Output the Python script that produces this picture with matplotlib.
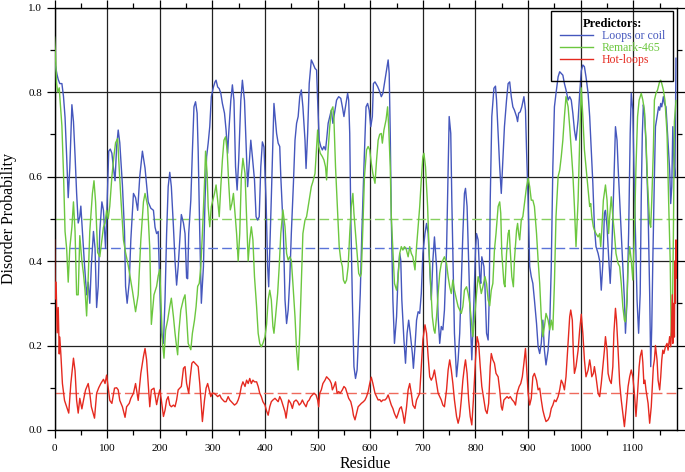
import numpy as np
import matplotlib
matplotlib.use("Agg")
import matplotlib.pyplot as plt
from matplotlib.patches import Rectangle
from matplotlib.ticker import MultipleLocator, FormatStrFormatter

plt.rcParams["font.family"] = ["Liberation Serif", "DejaVu Serif"]

# --- data (residue, disorder probability)
loops_or_coil = [
    (0, 0.87), (2, 0.86), (5, 0.84), (7, 0.83), (10, 0.82), (14, 0.82), (17, 0.79), (20, 0.74),
    (23, 0.65), (26, 0.55), (29, 0.62), (33, 0.77), (36, 0.73), (39, 0.65), (42, 0.56), (45, 0.49),
    (48, 0.505), (50, 0.53), (53, 0.47), (57, 0.39), (61, 0.32), (64, 0.35), (67, 0.30), (70, 0.39),
    (74, 0.47), (77, 0.43), (80, 0.29), (83, 0.34), (86, 0.47), (90, 0.54), (93, 0.52), (97, 0.43),
    (100, 0.54), (103, 0.66), (106, 0.665), (109, 0.655), (112, 0.62), (115, 0.59), (118, 0.67),
    (121, 0.71), (124, 0.68), (129, 0.58), (133, 0.47), (135, 0.34), (138, 0.30), (142, 0.35),
    (145, 0.45), (150, 0.56), (154, 0.55), (158, 0.52), (162, 0.60), (167, 0.66), (172, 0.62),
    (178, 0.54), (183, 0.525), (188, 0.52), (191, 0.48), (194, 0.465), (197, 0.47),
    (200, 0.34), (203, 0.23), (207, 0.205), (210, 0.31), (213, 0.465), (216, 0.576), (219, 0.61),
    (222, 0.576), (226, 0.48), (229, 0.40), (232, 0.343), (235, 0.387), (238, 0.45), (241, 0.51),
    (245, 0.49), (248, 0.465), (251, 0.36), (253, 0.358), (255, 0.465), (259, 0.544), (262, 0.66),
    (265, 0.765), (268, 0.777), (271, 0.75), (273, 0.66), (276, 0.465), (279, 0.30), (283, 0.387),
    (286, 0.544), (289, 0.647), (292, 0.679), (295, 0.718), (298, 0.789), (302, 0.812), (305, 0.824),
    (307, 0.828), (310, 0.812), (313, 0.808), (316, 0.797), (319, 0.773), (323, 0.75), (326, 0.71),
    (329, 0.655), (331, 0.702), (335, 0.78), (338, 0.817), (341, 0.78), (344, 0.623), (347, 0.568),
    (350, 0.639), (354, 0.78), (357, 0.828), (361, 0.78), (364, 0.679), (367, 0.576), (370, 0.631),
    (373, 0.686), (376, 0.647), (380, 0.592), (383, 0.505), (386, 0.497), (389, 0.505), (392, 0.623),
    (395, 0.682), (398, 0.67), (402, 0.544), (405, 0.387),
    (407, 0.339), (412, 0.55), (417, 0.773), (422, 0.702), (425, 0.679), (428, 0.671), (430, 0.60),
    (435, 0.465), (438, 0.308), (441, 0.252), (444, 0.284), (447, 0.355), (450, 0.465), (454, 0.584),
    (457, 0.686), (460, 0.726), (463, 0.742), (466, 0.789), (469, 0.805), (472, 0.765), (476, 0.686),
    (478, 0.619), (481, 0.702), (484, 0.82), (488, 0.876), (491, 0.868), (495, 0.856), (498, 0.852),
    (500, 0.781), (503, 0.686), (506, 0.671), (509, 0.663), (512, 0.671), (515, 0.663), (517, 0.686),
    (520, 0.726), (523, 0.742), (526, 0.757), (529, 0.726), (533, 0.757), (536, 0.781), (540, 0.789),
    (544, 0.785), (547, 0.765), (550, 0.742), (553, 0.765), (557, 0.797), (559, 0.781), (561, 0.702),
    (563, 0.505), (566, 0.308), (569, 0.15), (572, 0.122), (575, 0.142), (578, 0.229), (581, 0.323),
    (584, 0.465), (588, 0.623), (592, 0.765), (595, 0.773), (598, 0.757), (601, 0.718), (604, 0.742),
    (606, 0.82), (609, 0.824), (614, 0.813), (618, 0.801),
    (621, 0.789), (624, 0.797), (628, 0.828), (631, 0.852), (634, 0.876), (636, 0.844), (638, 0.702),
    (640, 0.505), (643, 0.308), (646, 0.205), (650, 0.268), (653, 0.371), (656, 0.418), (658, 0.402),
    (660, 0.308), (664, 0.213), (667, 0.158), (670, 0.229), (673, 0.26), (676, 0.229), (680, 0.181),
    (682, 0.146), (685, 0.197), (688, 0.26), (691, 0.28), (694, 0.276), (697, 0.323), (700, 0.418),
    (704, 0.465), (707, 0.489), (710, 0.465), (713, 0.387), (716, 0.308), (719, 0.402), (722, 0.457),
    (726, 0.387), (729, 0.268), (732, 0.205), (735, 0.245), (738, 0.237), (741, 0.284), (745, 0.426),
    (748, 0.623), (750, 0.742), (753, 0.702), (755, 0.544), (758, 0.347), (760, 0.229), (764, 0.126),
    (767, 0.166), (770, 0.229), (773, 0.347), (776, 0.465), (779, 0.56), (781, 0.572), (784, 0.529),
    (787, 0.402), (790, 0.268), (793, 0.166), (796, 0.268), (800, 0.426), (802, 0.465), (805, 0.45),
    (808, 0.363), (810, 0.347), (812, 0.41), (816, 0.387), (818, 0.339), (821, 0.229), (824, 0.213),
    (826, 0.308),
    (828, 0.544), (831, 0.742), (835, 0.809), (838, 0.814), (840, 0.781), (843, 0.702), (846, 0.623),
    (849, 0.56), (852, 0.639), (855, 0.718), (859, 0.781), (862, 0.82), (865, 0.824), (868, 0.789),
    (871, 0.765), (874, 0.757), (878, 0.742), (880, 0.73), (882, 0.75), (885, 0.753), (888, 0.765),
    (892, 0.789), (895, 0.757), (897, 0.663), (900, 0.544), (903, 0.387), (906, 0.363), (909, 0.347),
    (912, 0.308), (916, 0.252), (919, 0.197), (922, 0.181), (925, 0.205), (928, 0.26), (931, 0.189),
    (934, 0.154), (938, 0.189), (941, 0.245), (944, 0.387), (947, 0.623), (950, 0.765), (953, 0.797),
    (957, 0.836), (960, 0.848), (963, 0.844), (966, 0.84), (969, 0.82), (972, 0.805), (976, 0.781),
    (979, 0.789), (982, 0.781), (985, 0.75), (988, 0.71), (991, 0.686), (995, 0.734), (998, 0.797),
    (1001, 0.85), (1004, 0.864), (1007, 0.86), (1010, 0.836), (1014, 0.797), (1017, 0.742),
    (1020, 0.663), (1023, 0.584), (1026, 0.481), (1029, 0.434), (1033, 0.418), (1036, 0.40),
    (1039, 0.331), (1042, 0.394), (1045, 0.513), (1047, 0.52), (1050, 0.481), (1053, 0.41),
    (1056, 0.347), (1059, 0.426), (1062, 0.544), (1066, 0.718), (1069, 0.686), (1071, 0.623),
    (1074, 0.544), (1077, 0.465), (1080, 0.387), (1083, 0.308), (1085, 0.229), (1088, 0.308),
    (1091, 0.465), (1094, 0.702), (1096, 0.797), (1099, 0.757), (1101, 0.623), (1104, 0.465),
    (1107, 0.308), (1110, 0.229), (1113, 0.323), (1115, 0.55), (1117, 0.70), (1119, 0.77),
    (1121, 0.75), (1124, 0.679), (1128, 0.521), (1131, 0.323), (1133, 0.15), (1135, 0.245),
    (1137, 0.402), (1140, 0.60), (1142, 0.718), (1145, 0.742), (1148, 0.765), (1150, 0.757),
    (1152, 0.773), (1154, 0.765), (1157, 0.789), (1159, 0.773), (1162, 0.765), (1165, 0.702),
    (1169, 0.615), (1171, 0.536), (1173, 0.576), (1175, 0.718), (1177, 0.639), (1179, 0.60),
    (1181, 0.88),
]

remark_465 = [
    (0, 0.93), (2, 0.88), (4, 0.82), (6, 0.80), (9, 0.81), (10, 0.79), (14, 0.72), (17, 0.61),
    (20, 0.47), (23, 0.43), (26, 0.35), (29, 0.43), (33, 0.48), (36, 0.54), (39, 0.47), (42, 0.32),
    (45, 0.32), (48, 0.46), (52, 0.40), (55, 0.37), (58, 0.33), (61, 0.27), (64, 0.36), (67, 0.47),
    (72, 0.56), (75, 0.59), (78, 0.54), (82, 0.42), (86, 0.41), (90, 0.45), (93, 0.48), (96, 0.49),
    (99, 0.52), (102, 0.50), (105, 0.53), (109, 0.60), (113, 0.65), (116, 0.68), (120, 0.69),
    (122, 0.64), (126, 0.55), (131, 0.45), (135, 0.42), (140, 0.39), (148, 0.33), (154, 0.28),
    (159, 0.32), (164, 0.45), (169, 0.54), (172, 0.56), (177, 0.53), (181, 0.43), (184, 0.25),
    (189, 0.32), (194, 0.34), (197, 0.365), (200, 0.38),
    (202, 0.31), (205, 0.21), (208, 0.17), (211, 0.236), (215, 0.26), (219, 0.292), (222, 0.312),
    (226, 0.268), (229, 0.229), (232, 0.197), (234, 0.178), (236, 0.229), (240, 0.284), (245, 0.31),
    (248, 0.32), (251, 0.268), (254, 0.205), (259, 0.19), (262, 0.229), (266, 0.26), (269, 0.292),
    (272, 0.34), (275, 0.347), (278, 0.387), (281, 0.465), (285, 0.584), (287, 0.66), (290, 0.607),
    (292, 0.529), (295, 0.481), (298, 0.529), (304, 0.56), (307, 0.58), (310, 0.544), (313, 0.505),
    (316, 0.576), (319, 0.639), (322, 0.686), (325, 0.694), (328, 0.663), (331, 0.584), (334, 0.521),
    (337, 0.536), (340, 0.56), (343, 0.513), (346, 0.465), (349, 0.40), (352, 0.465), (355, 0.60),
    (358, 0.643), (362, 0.607), (365, 0.505), (368, 0.40), (371, 0.45), (374, 0.481), (377, 0.45),
    (380, 0.363), (384, 0.292), (387, 0.229), (390, 0.205), (393, 0.197), (396, 0.205), (400, 0.221),
    (403, 0.25), (406, 0.308), (409, 0.331),
    (412, 0.308), (415, 0.245), (417, 0.229), (420, 0.268), (424, 0.323), (427, 0.387), (430, 0.465),
    (434, 0.521), (438, 0.481), (441, 0.418), (444, 0.402), (447, 0.41), (450, 0.402), (453, 0.347),
    (457, 0.268), (460, 0.189), (463, 0.142), (466, 0.229), (469, 0.347), (472, 0.465), (476, 0.497),
    (479, 0.505), (482, 0.529), (485, 0.552), (488, 0.576), (491, 0.588), (495, 0.607), (498, 0.671),
    (500, 0.71), (502, 0.671), (505, 0.655), (509, 0.647), (512, 0.639), (515, 0.623), (517, 0.592),
    (520, 0.663), (523, 0.718), (526, 0.757), (529, 0.765), (531, 0.734), (534, 0.623), (538, 0.513),
    (541, 0.434), (544, 0.402), (547, 0.387), (549, 0.355), (552, 0.347), (555, 0.355), (558, 0.387),
    (561, 0.465), (564, 0.529), (567, 0.56), (569, 0.513), (572, 0.465), (576, 0.402), (578, 0.371),
    (581, 0.363), (583, 0.371), (586, 0.481), (589, 0.60), (593, 0.663), (596, 0.671), (599, 0.663),
    (602, 0.631), (605, 0.607), (609, 0.584), (612, 0.639), (615, 0.686), (618, 0.70),
    (621, 0.702), (623, 0.679), (626, 0.71), (630, 0.734), (633, 0.765), (635, 0.718), (638, 0.623),
    (640, 0.505), (643, 0.426), (646, 0.347), (650, 0.331), (653, 0.363), (656, 0.418), (659, 0.434),
    (662, 0.426), (665, 0.434), (668, 0.43), (672, 0.41), (675, 0.434), (678, 0.418), (681, 0.41),
    (685, 0.379), (688, 0.434), (691, 0.481), (694, 0.529), (697, 0.592), (700, 0.647), (702, 0.655),
    (705, 0.623), (709, 0.529), (712, 0.418), (715, 0.339), (718, 0.268), (721, 0.237), (723, 0.229),
    (726, 0.268), (729, 0.323), (732, 0.371), (735, 0.394), (738, 0.402), (741, 0.41), (745, 0.394),
    (748, 0.363), (751, 0.339), (754, 0.323), (757, 0.355), (760, 0.331), (764, 0.308), (767, 0.292),
    (770, 0.284), (773, 0.276), (776, 0.292), (779, 0.331), (783, 0.339), (786, 0.323), (789, 0.30),
    (792, 0.26), (795, 0.221), (798, 0.26), (802, 0.323), (805, 0.363), (808, 0.347), (811, 0.323),
    (814, 0.339), (818, 0.363), (821, 0.347), (824, 0.308), (827, 0.294),
    (830, 0.331), (833, 0.347), (836, 0.426), (839, 0.465), (843, 0.529), (846, 0.54), (848, 0.513),
    (850, 0.418), (854, 0.347), (856, 0.339), (859, 0.418), (862, 0.465), (864, 0.473), (866, 0.426),
    (869, 0.363), (872, 0.339), (874, 0.402), (878, 0.473), (880, 0.489), (882, 0.465), (884, 0.45),
    (887, 0.497), (890, 0.505), (893, 0.536), (897, 0.576), (900, 0.596), (903, 0.576), (906, 0.544),
    (909, 0.544), (912, 0.529), (916, 0.465), (919, 0.402), (922, 0.347), (925, 0.268), (928, 0.221),
    (931, 0.245), (934, 0.276), (938, 0.26), (941, 0.237), (944, 0.26), (947, 0.237), (950, 0.347),
    (953, 0.505), (957, 0.60), (960, 0.615), (963, 0.647), (966, 0.686), (969, 0.742), (972, 0.789),
    (976, 0.765), (979, 0.718), (982, 0.663), (985, 0.607), (988, 0.529), (991, 0.434), (995, 0.544),
    (998, 0.686), (1001, 0.81), (1004, 0.742), (1007, 0.663), (1010, 0.623), (1014, 0.568),
    (1017, 0.529), (1019, 0.536), (1021, 0.505), (1024, 0.481), (1026, 0.473), (1029, 0.465),
    (1033, 0.457), (1036, 0.465), (1038, 0.434), (1040, 0.473), (1043, 0.544), (1047, 0.58),
    (1050, 0.544), (1053, 0.465), (1055, 0.505), (1058, 0.552), (1061, 0.505), (1064, 0.465),
    (1067, 0.418), (1071, 0.394), (1074, 0.387), (1077, 0.347), (1080, 0.292), (1083, 0.26),
    (1085, 0.256), (1088, 0.308), (1090, 0.387), (1093, 0.434), (1096, 0.402), (1099, 0.355),
    (1102, 0.465), (1105, 0.623), (1108, 0.742), (1111, 0.781), (1115, 0.797), (1118, 0.781),
    (1121, 0.757), (1124, 0.686), (1127, 0.584), (1131, 0.49), (1133, 0.48), (1135, 0.544),
    (1138, 0.663), (1140, 0.781), (1143, 0.797), (1146, 0.805), (1150, 0.825), (1152, 0.828),
    (1154, 0.82), (1157, 0.805), (1160, 0.781), (1164, 0.702), (1167, 0.544), (1170, 0.40),
    (1172, 0.22), (1174, 0.25), (1176, 0.45), (1178, 0.73), (1181, 0.78),
]

hot_loops = [
    (0, 0.45), (1, 0.31), (3, 0.35), (5, 0.23), (7, 0.29), (9, 0.18), (10, 0.22), (12, 0.18),
    (15, 0.11), (19, 0.07), (23, 0.055), (27, 0.04), (31, 0.11), (36, 0.17), (39, 0.14), (42, 0.07),
    (45, 0.04), (48, 0.075), (52, 0.05), (55, 0.07), (59, 0.095), (64, 0.11), (67, 0.087), (70, 0.055),
    (76, 0.028), (80, 0.087), (84, 0.10), (88, 0.11), (93, 0.12), (96, 0.11), (99, 0.13), (102, 0.10),
    (105, 0.07), (109, 0.063), (114, 0.099), (118, 0.10), (121, 0.095), (124, 0.07), (129, 0.055),
    (134, 0.03), (137, 0.055), (142, 0.063), (145, 0.075), (150, 0.087), (154, 0.11), (159, 0.07),
    (164, 0.134), (169, 0.174), (172, 0.193), (175, 0.166), (178, 0.11), (181, 0.055), (184, 0.095),
    (189, 0.099), (194, 0.06), (197, 0.079),
    (200, 0.095), (203, 0.071), (207, 0.032), (210, 0.047), (213, 0.071), (216, 0.079), (219, 0.059),
    (222, 0.055), (226, 0.059), (229, 0.055), (232, 0.071), (235, 0.095), (238, 0.099), (241, 0.103),
    (245, 0.146), (248, 0.15), (251, 0.11), (255, 0.087), (258, 0.126), (261, 0.158), (264, 0.162),
    (267, 0.158), (270, 0.154), (273, 0.15), (276, 0.11), (279, 0.055), (281, 0.02), (285, 0.071),
    (288, 0.099), (291, 0.11), (294, 0.095), (297, 0.079), (300, 0.087), (303, 0.087), (307, 0.083),
    (310, 0.079), (314, 0.083), (317, 0.075), (320, 0.071), (323, 0.067), (326, 0.067), (330, 0.079),
    (333, 0.071), (336, 0.067), (339, 0.063), (342, 0.059), (346, 0.063), (349, 0.071), (352, 0.083),
    (355, 0.103), (358, 0.114), (362, 0.103), (365, 0.118), (368, 0.11), (371, 0.122), (374, 0.11),
    (377, 0.118), (380, 0.114), (384, 0.114), (387, 0.103), (390, 0.087), (393, 0.079), (396, 0.067),
    (400, 0.059), (403, 0.045), (406, 0.035),
    (409, 0.055), (412, 0.067), (415, 0.071), (419, 0.075), (422, 0.071), (425, 0.067), (428, 0.079),
    (431, 0.071), (434, 0.059), (438, 0.043), (440, 0.028), (443, 0.055), (445, 0.071), (449, 0.063),
    (452, 0.051), (455, 0.067), (459, 0.071), (462, 0.067), (465, 0.059), (468, 0.063), (471, 0.071),
    (474, 0.063), (478, 0.055), (481, 0.067), (484, 0.071), (487, 0.079), (490, 0.083), (493, 0.087),
    (497, 0.083), (500, 0.071), (502, 0.055), (504, 0.087), (507, 0.095), (510, 0.11), (514, 0.118),
    (517, 0.126), (520, 0.122), (523, 0.118), (526, 0.11), (528, 0.095), (531, 0.103), (534, 0.114),
    (537, 0.087), (540, 0.091), (543, 0.087), (547, 0.095), (550, 0.103), (553, 0.099), (556, 0.087),
    (559, 0.075), (563, 0.067), (566, 0.051), (568, 0.035), (571, 0.024), (574, 0.039), (577, 0.055),
    (580, 0.059), (583, 0.063), (587, 0.067), (590, 0.071), (593, 0.079), (596, 0.091), (599, 0.11),
    (602, 0.125), (605, 0.11), (609, 0.087), (612, 0.079), (615, 0.071), (618, 0.072),
    (621, 0.067), (624, 0.071), (628, 0.071), (631, 0.075), (634, 0.083), (637, 0.071), (640, 0.059),
    (643, 0.051), (646, 0.039), (650, 0.028), (653, 0.039), (656, 0.051), (659, 0.055), (662, 0.039),
    (665, 0.016), (669, 0.055), (672, 0.095), (675, 0.11), (678, 0.087), (681, 0.059), (685, 0.051),
    (688, 0.071), (691, 0.079), (694, 0.087), (697, 0.15), (700, 0.213), (704, 0.249), (707, 0.229),
    (710, 0.174), (713, 0.126), (716, 0.118), (719, 0.126), (722, 0.142), (726, 0.11), (729, 0.087),
    (732, 0.079), (735, 0.071), (738, 0.059), (741, 0.055), (745, 0.095), (748, 0.142), (751, 0.166),
    (754, 0.142), (757, 0.11), (760, 0.071), (764, 0.032), (767, 0.016), (770, 0.032), (773, 0.071),
    (776, 0.118), (779, 0.15), (781, 0.166), (784, 0.134), (787, 0.071), (790, 0.032), (793, 0.012),
    (796, 0.071), (800, 0.166), (803, 0.221), (806, 0.205), (809, 0.15), (812, 0.103), (816, 0.071),
    (819, 0.047), (822, 0.039), (825, 0.063),
    (828, 0.15), (830, 0.181), (833, 0.166), (836, 0.158), (839, 0.134), (843, 0.126), (846, 0.095),
    (849, 0.055), (851, 0.047), (854, 0.071), (857, 0.075), (860, 0.079), (863, 0.075), (866, 0.079),
    (870, 0.071), (873, 0.067), (876, 0.059), (879, 0.087), (883, 0.103), (886, 0.11), (889, 0.126),
    (892, 0.158), (895, 0.193), (897, 0.15), (900, 0.087), (903, 0.059), (906, 0.075), (909, 0.126),
    (912, 0.134), (916, 0.118), (919, 0.095), (922, 0.099), (925, 0.071), (928, 0.047), (931, 0.032),
    (934, 0.02), (938, 0.024), (941, 0.032), (944, 0.051), (947, 0.059), (950, 0.071), (953, 0.067),
    (957, 0.079), (960, 0.095), (963, 0.118), (966, 0.11), (969, 0.095), (972, 0.126), (976, 0.205),
    (979, 0.268), (981, 0.284), (984, 0.26), (986, 0.181), (988, 0.134), (991, 0.15), (995, 0.189),
    (998, 0.237), (1001, 0.274), (1004, 0.229), (1007, 0.166), (1010, 0.126), (1014, 0.142),
    (1017, 0.166), (1019, 0.15), (1021, 0.126), (1024, 0.134), (1026, 0.15), (1029, 0.126),
    (1033, 0.087), (1036, 0.079), (1039, 0.11), (1042, 0.15), (1045, 0.189), (1047, 0.221),
    (1050, 0.189), (1052, 0.134), (1055, 0.118), (1058, 0.11), (1061, 0.15), (1063, 0.229),
    (1066, 0.288), (1068, 0.26), (1071, 0.189), (1074, 0.11), (1077, 0.071), (1080, 0.039),
    (1083, 0.008), (1086, 0.047), (1090, 0.103), (1093, 0.126), (1096, 0.142), (1099, 0.126),
    (1102, 0.087), (1105, 0.032), (1108, 0.087), (1111, 0.15), (1113, 0.174), (1116, 0.189),
    (1118, 0.16), (1120, 0.11), (1122, 0.118), (1124, 0.095), (1128, 0.063), (1131, 0.016),
    (1134, 0.055), (1136, 0.103), (1138, 0.15), (1140, 0.166), (1142, 0.2), (1145, 0.166),
    (1147, 0.118), (1150, 0.095), (1152, 0.126), (1154, 0.166), (1156, 0.189), (1158, 0.181),
    (1161, 0.197), (1164, 0.205), (1166, 0.189), (1169, 0.221), (1171, 0.197), (1172, 0.221),
    (1174, 0.32), (1175, 0.205), (1176, 0.26), (1177, 0.30), (1178, 0.22), (1179, 0.40),
    (1180, 0.30), (1181, 0.45), (1182, 0.36),
]

# mean lines (dashed)
mean_loops = 0.43
mean_remark = 0.50
mean_hot = 0.087

series_names = ["Loops or coil", "Remark-465", "Hot-loops"]
series_colors = ["#4557bd", "#6cc73f", "#e5291f"]
mean_colors = ["#5a74d8", "#86d05e", "#ef6a5c"]

X_MAX = 1182

# --- plot
fig = plt.figure(figsize=(6.85, 4.72), dpi=100)
ax = fig.add_axes([0.0796, 0.089, 0.908, 0.895])

for data, mean, name, color, mcolor in zip(
    [loops_or_coil, remark_465, hot_loops],
    [mean_loops, mean_remark, mean_hot],
    series_names, series_colors, mean_colors,
):
    arr = np.array(data)
    ax.axhline(mean, color=mcolor, linewidth=1.0, dashes=(7, 3), zorder=2)
    ax.plot(arr[:, 0], arr[:, 1], color=color, linewidth=1.0, label=name, zorder=3)

# axes and grid
ax.set_xlim(0, X_MAX)
ax.set_ylim(0, 1.0)
ax.xaxis.set_major_locator(MultipleLocator(100))
ax.xaxis.set_minor_locator(MultipleLocator(50))
ax.yaxis.set_major_locator(MultipleLocator(0.2))
ax.yaxis.set_minor_locator(MultipleLocator(0.1))
ax.yaxis.set_major_formatter(FormatStrFormatter("%.1f"))
ax.grid(True, which="major", color="#222222", linewidth=0.9)
ax.tick_params(which="both", direction="out", top=True, right=True,
               labelsize=8, width=0.9, colors="black")
ax.tick_params(which="major", length=6, pad=3)
ax.tick_params(axis="x", which="major", pad=4)
ax.tick_params(which="minor", length=3.5)
for sp in ax.spines.values():
    sp.set_linewidth(1.0)
    sp.set_color("black")

ax.set_xlabel("Residue", fontsize=11.5, labelpad=2)
ax.set_ylabel("Disorder Probability", fontsize=11.5, labelpad=8)

# legend (frame drawn separately, transparent)
ax.add_patch(Rectangle((0.798, 0.826), 0.196, 0.166, transform=ax.transAxes,
                       fill=False, edgecolor="black", linewidth=1.0, zorder=5))
leg = ax.legend(
    title="Predictors:",
    loc="upper left",
    bbox_to_anchor=(0.80, 0.995),
    frameon=False,
    fontsize=8.5,
    title_fontproperties={"weight": "bold", "size": 9},
    handlelength=2.8,
    handletextpad=0.7,
    labelspacing=0.0,
    labelcolor="linecolor",
    borderpad=0.2,
)
leg.set_zorder(6)

fig.savefig("out.png", dpi=100)
